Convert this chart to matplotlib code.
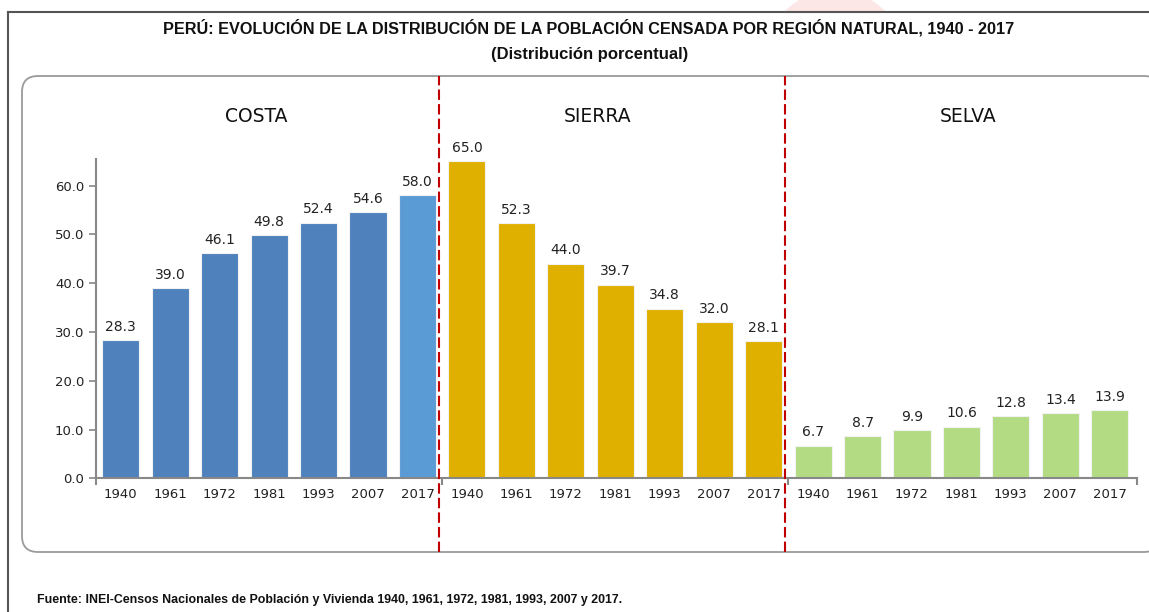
import matplotlib
matplotlib.use('Agg')
import matplotlib.pyplot as plt
from matplotlib.patches import FancyBboxPatch, Rectangle, Circle
from matplotlib.lines import Line2D
import numpy as np

# census years repeat for each natural region
years = ['1940', '1961', '1972', '1981', '1993', '2007', '2017']
regions = ['COSTA', 'SIERRA', 'SELVA']

# percentage of census population per region
costa = [28.3, 39.0, 46.1, 49.8, 52.4, 54.6, 58.0]
sierra = [65.0, 52.3, 44.0, 39.7, 34.8, 32.0, 28.1]
selva = [6.7, 8.7, 9.9, 10.6, 12.8, 13.4, 13.9]

costa_colors = ['#4F81BD'] * 6 + ['#5B9BD5']
sierra_colors = ['#E0B000'] * 7
selva_colors = ['#B3DB84'] * 7

W, H = 1149, 612
fig = plt.figure(figsize=(W / 100, H / 100), dpi=100)
fig.patch.set_facecolor('white')

def fx(px):
    return px / W

def fy(py):
    return 1 - py / H

# faint pink logo peeking above the frame (inches, so it stays round)
fig.add_artist(Circle((8.35, (H - 60) / 100), 0.7, transform=fig.dpi_scale_trans,
                      facecolor='#FDE6E6', edgecolor='none', zorder=-10))

# white page inside the outer frame
fig.add_artist(Rectangle((fx(8), 0), 1 - fx(8), fy(12), transform=fig.transFigure,
                         facecolor='white', edgecolor='none', zorder=-9))
fig.add_artist(Line2D([fx(8), 1], [fy(12), fy(12)], transform=fig.transFigure,
                      color='#555555', lw=1.5, zorder=-8))
fig.add_artist(Line2D([fx(8), fx(8)], [0, fy(12)], transform=fig.transFigure,
                      color='#555555', lw=1.5, zorder=-8))

# rounded panel box
box = FancyBboxPatch((0.22, (H - 552) / 100), 11.6 - 0.22, (552 - 76) / 100,
                     boxstyle='round,pad=0,rounding_size=0.16',
                     transform=fig.dpi_scale_trans, facecolor='white',
                     edgecolor='#9A9A9A', lw=1.3, zorder=-7)
fig.add_artist(box)

head_font = ['Liberation Sans Narrow', 'Liberation Sans']
fig.text(fx(589), fy(28), 'PERÚ: EVOLUCIÓN DE LA DISTRIBUCIÓN DE LA POBLACIÓN CENSADA POR REGIÓN NATURAL, 1940 - 2017',
         ha='center', va='center', fontsize=11.7, fontweight='bold',
         family=head_font, color='#111111')
fig.text(fx(590), fy(55), '(Distribución porcentual)', ha='center', va='center',
         fontsize=12, fontweight='bold', family=head_font, color='#111111')
fig.text(fx(37), fy(600), 'Fuente: INEI-Censos Nacionales de Población y Vivienda 1940, 1961, 1972, 1981, 1993, 2007 y 2017.',
         ha='left', va='center', fontsize=8.9, fontweight='bold',
         family=head_font, color='#111111')

ax = fig.add_axes([fx(96), fy(478.3), fx(1137) - fx(96), (478.3 - 158.8) / H])
ax.set_facecolor('none')

values = costa + sierra + selva
colors = costa_colors + sierra_colors + selva_colors
x = np.arange(len(values))
bars = ax.bar(x, values, width=0.75, color=colors, edgecolor='#F2F2F2', linewidth=0.8, zorder=2)
for b, v in zip(bars, values):
    ax.annotate(f'{v:.1f}', (b.get_x() + b.get_width() / 2, v), xytext=(0, 4.5),
                textcoords='offset points', ha='center', va='bottom',
                fontsize=10, color='#222222')

ax.set_xlim(-0.5, 20.55)
ax.set_ylim(0, 65.5)
ax.set_yticks(np.arange(0, 61, 10))
ax.set_yticklabels([f'{t:.1f}' for t in np.arange(0, 61, 10)])
ax.set_xticks(x)
ax.set_xticklabels(years * 3)
ax.set_xticks([-0.5, 6.5, 13.5, 20.55], minor=True)
ax.tick_params(axis='x', which='major', length=0, pad=7, labelsize=9.5, labelcolor='#222222')
ax.tick_params(axis='x', which='minor', length=5, color='#888888', width=1.5)
ax.tick_params(axis='y', length=5, color='#888888', width=1.2, labelsize=9.5,
               labelcolor='#222222', pad=3.5)
for s in ['top', 'right']:
    ax.spines[s].set_visible(False)
for s in ['left', 'bottom']:
    ax.spines[s].set_color('#888888')
    ax.spines[s].set_linewidth(1.5)

# region names above each group
for name, px in zip(regions, [256, 598, 968]):
    fig.text(fx(px), fy(116), name, ha='center', va='center', fontsize=13.5, color='#111111')

# dashed separators between regions
for b in [6.5, 13.5]:
    xf = fig.transFigure.inverted().transform(ax.transData.transform((b, 0)))[0]
    fig.add_artist(Line2D([xf - 0.003, xf - 0.003], [fy(552), fy(76)], transform=fig.transFigure,
                          color='#C00000', lw=1.5, ls=(0, (5, 2)), zorder=5))

fig.savefig('out.png', dpi=100)
